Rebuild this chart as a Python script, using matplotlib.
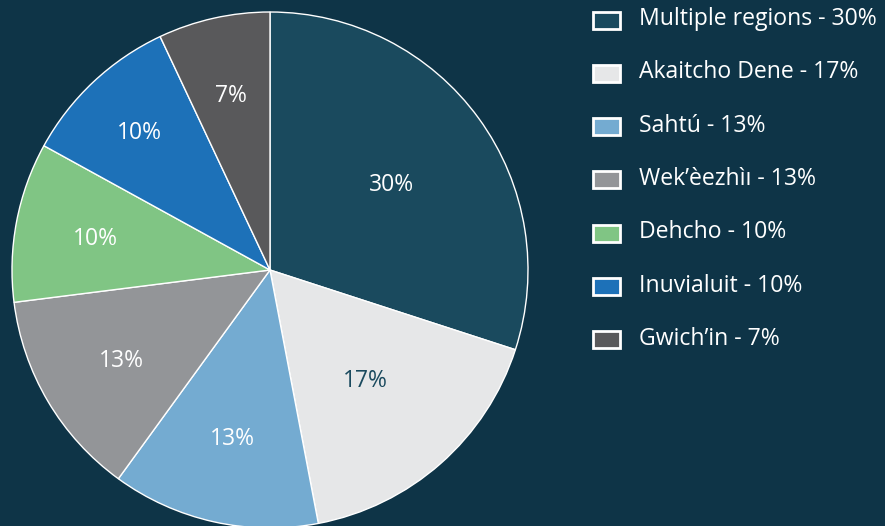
import matplotlib.pyplot as plt
from matplotlib.patches import Rectangle

regions = ["Multiple regions", "Akaitcho Dene", "Sahtú", "Wek’èezhìı", "Dehcho", "Inuvialuit", "Gwich’in"]
shares = [30, 17, 13, 13, 10, 10, 7]
colors = ["#1a4a5e", "#e6e7e8", "#74abd1", "#939598", "#80c584", "#1d71b8", "#59595b"]
label_colors = ["white", "#1a4a5e", "white", "white", "white", "white", "white"]
label_radius = [0.58, 0.56, 0.66, 0.67, 0.69, 0.74, 0.70]

bg = "#0e3447"
plt.rcParams['font.family'] = ['Open Sans', 'DejaVu Sans']

fig = plt.figure(figsize=(8.85, 5.26), dpi=100, facecolor=bg)
W, H = 885, 526
cx, cy, r = 270, 270, 258
ax = fig.add_axes([(cx - r) / W, (H - cy - r) / H, 2 * r / W, 2 * r / H])
ax.set_facecolor(bg)

wedges, _, autotexts = ax.pie(shares, colors=colors, startangle=90, counterclock=False,
                              radius=1, autopct="%d%%", pctdistance=0.6,
                              wedgeprops=dict(edgecolor="white", linewidth=1))
for t, c, rr in zip(autotexts, label_colors, label_radius):
    x, y = t.get_position()
    d = (x ** 2 + y ** 2) ** 0.5
    t.set_position((x / d * rr, y / d * rr - 0.01))
    t.set_color(c)
    t.set_fontsize(16.5)
ax.set_xlim(-1, 1)
ax.set_ylim(-1, 1)
ax.axis("off")

# legend
y0, step = 20, 53.3
for i, (name, s, c) in enumerate(zip(regions, shares, colors)):
    yc = y0 + i * step
    fig.patches.append(Rectangle((593 / W, (H - yc - 8.5) / H), 27 / W, 17 / H,
                                 transform=fig.transFigure, facecolor=c,
                                 edgecolor="white", linewidth=2))
    fig.text(639 / W, (H - yc + 1) / H, f"{name} - {s}%", color="white",
             fontsize=16.6, va="center", ha="left")

fig.savefig("out.png", dpi=100, facecolor=bg)
